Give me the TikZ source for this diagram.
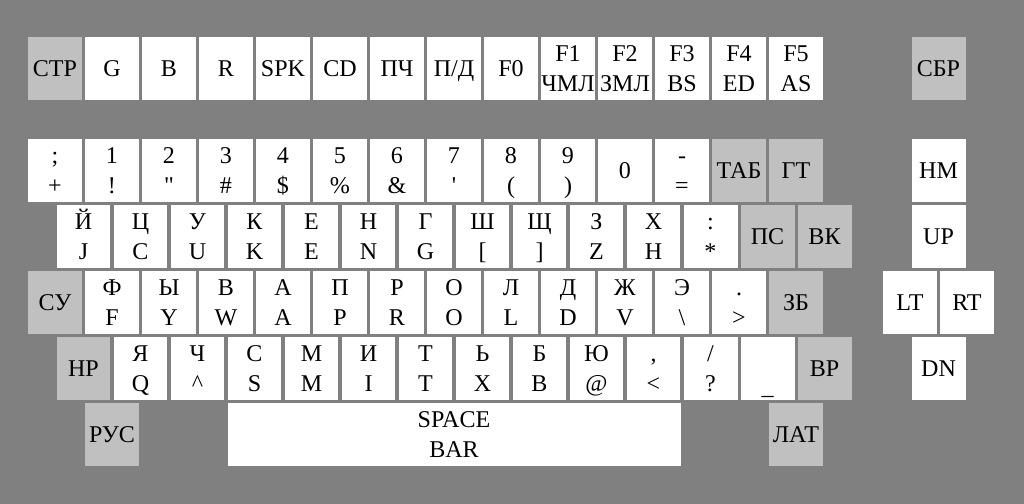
\documentclass[tikz,border=0pt]{standalone}
\usepackage{fontspec}
\setmainfont{Liberation Serif}
\usepackage{tikz}
\usepackage{xcolor}
\definecolor{panelgray}{HTML}{808080}
\definecolor{modgray}{HTML}{C0C0C0}

\tikzset{
  key/.style={fill=white, minimum width=0.947cm, minimum height=1.105cm,
    inner sep=0pt, align=center, font=\fontsize{12}{15}\selectfont,
    text height=11pt, text depth=3pt},
  twokey/.style={key, text height=26pt},
  modkey/.style={key, fill=modgray}
}

\begin{document}
\begin{tikzpicture}[x=1cm, y=-1.15789cm]
        % Panel
        \fill[panelgray] (-0.9649,-2.5833) rectangle (17.0,5.0530);

        % Function row
        \node[modkey] (ctp) at (0,-1.5455) {СТР};
        \foreach \lbl [count=\i] in {G,B,R,SPK,CD,ПЧ,{П/Д},F0}
            \node[key] (fn\i) at (\i,-1.5455) {\lbl};
        \foreach \lbl [count=\i from 9] in {{F1\\ЧМЛ},{F2\\ЗМЛ},{F3\\BS},{F4\\ED},{F5\\AS}}
            \node[twokey] (fn\i) at (\i,-1.5455) {\lbl};
        \node[modkey] (cbr) at (15.5,-1.5455) {СБР};

        % Digit row
        \foreach \lbl [count=\i from 0] in {{;\\+},{1\\!},{2\\\textquotedbl},{3\\\#},{4\\\$},{5\\\%},{6\\\&},{7\\\textquotesingle},{8\\(},{9\\)}}
            \node[twokey] (num\i) at (\i,0) {\lbl};
        \node[key] (num10) at (10,0) {0};
        \node[twokey] (num11) at (11,0) {-\\=};
        \node[modkey] (tab) at (12,0) {ТАБ};
        \node[modkey] (gt) at (13,0) {ГТ};
        \node[key] (hm) at (15.5,0) {HM};

        % Upper letter row
        \foreach \lbl [count=\i] in {{Й\\J},{Ц\\C},{У\\U},{К\\K},{Е\\E},{Н\\N},{Г\\G},{Ш\\{}[},{Щ\\{}]},{З\\Z},{Х\\H},{:\\{}*}}
            \node[twokey] (upr\i) at (\i-0.5,1) {\lbl};
        \node[modkey] (pc) at (12.5,1) {ПС};
        \node[modkey] (vk) at (13.5,1) {ВК};
        \node[key] (kup) at (15.5,1) {UP};

        % Middle letter row
        \node[modkey] (cu) at (0,2) {СУ};
        \foreach \lbl [count=\i] in {{Ф\\F},{Ы\\Y},{В\\W},{А\\A},{П\\P},{Р\\R},{О\\O},{Л\\L},{Д\\D},{Ж\\V},{Э\\\textbackslash},{.\\>}}
            \node[twokey] (mid\i) at (\i,2) {\lbl};
        \node[modkey] (zb) at (13,2) {ЗБ};
        \node[key] (klt) at (15,2) {LT};
        \node[key] (krt) at (16,2) {RT};

        % Lower letter row
        \node[modkey] (hp) at (0.5,3) {НР};
        \foreach \lbl [count=\i] in {{Я\\Q},{Ч\\\textasciicircum},{С\\S},{М\\M},{И\\I},{Т\\T},{Ь\\X},{Б\\B},{Ю\\@},{,\\<},{/\\?},{\\\smash{\raisebox{-1.5pt}{\_}}}}
            \node[twokey] (low\i) at (\i+0.5,3) {\lbl};
        \node[modkey] (vp) at (13.5,3) {ВР};
        \node[key] (kdn) at (15.5,3) {DN};

        % Bottom row
        \node[modkey] (rus) at (1,4) {РУС};
        \node[twokey, minimum width=7.947cm] (space) at (7,4) {SPACE\\BAR};
        \node[modkey] (lat) at (13,4) {ЛАТ};
\end{tikzpicture}
\end{document}
